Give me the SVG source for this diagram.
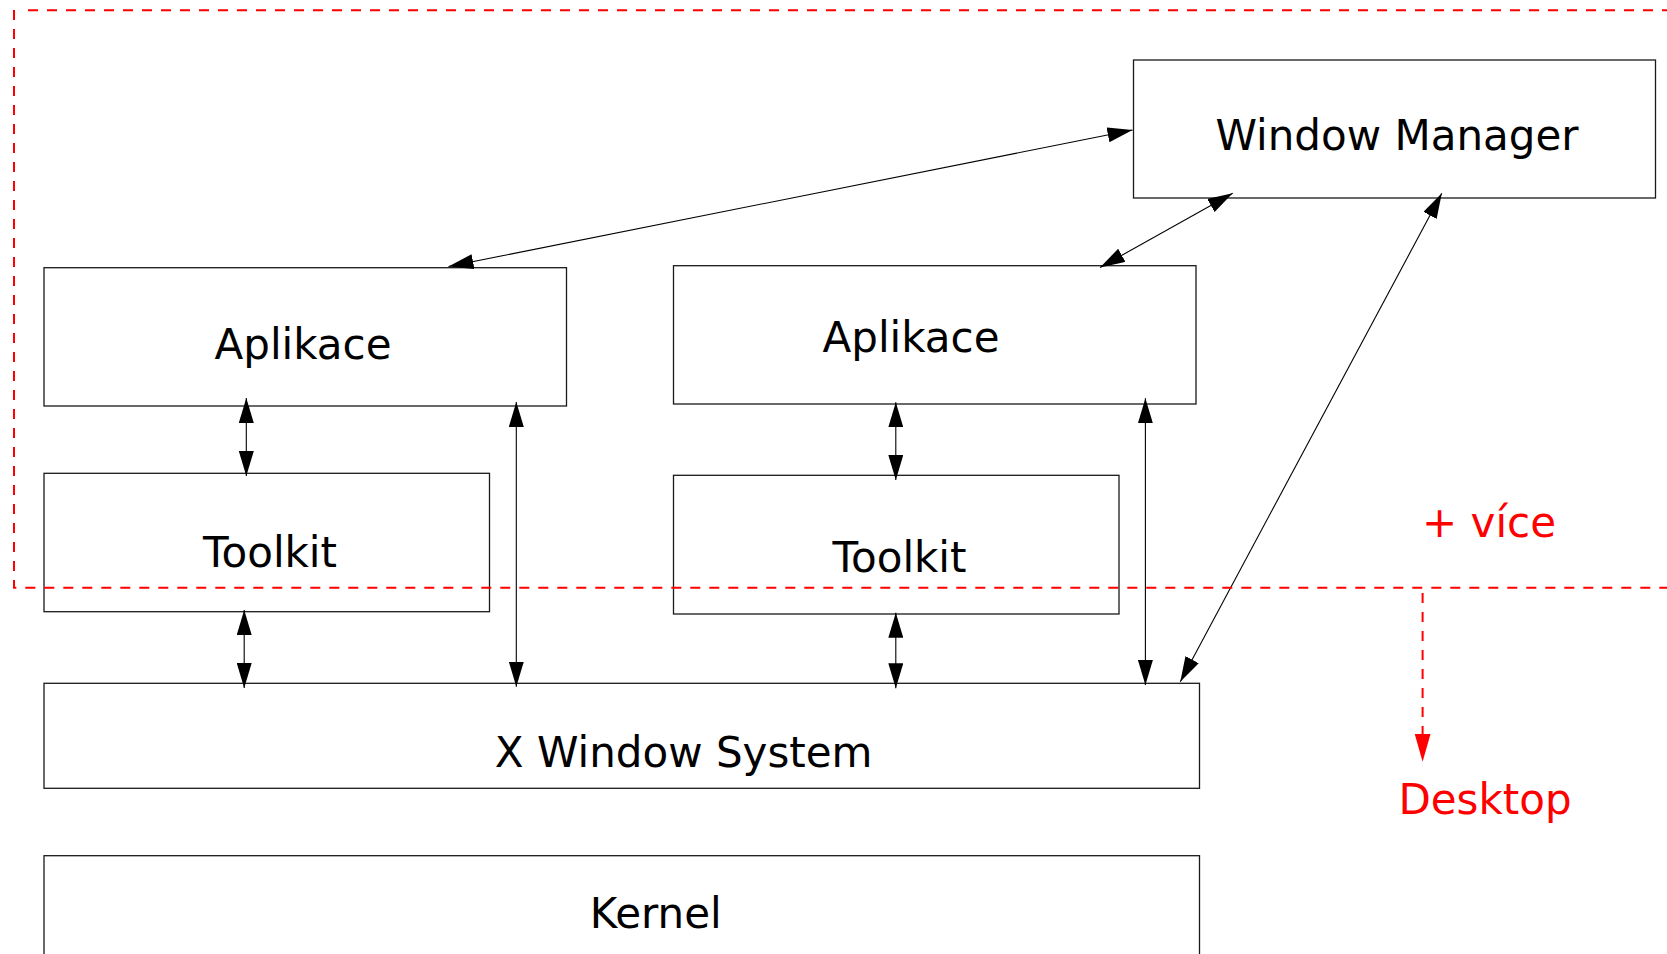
<svg xmlns="http://www.w3.org/2000/svg" width="1667" height="954" viewBox="0 0 1667 954">
<style>
.box{fill:none;stroke:#1a1a1a;stroke-width:1.3}
.lbl{font-family:"DejaVu Sans","Liberation Sans",sans-serif;font-size:42px;fill:#000;text-anchor:middle}
.red{fill:#ff0000}
.con{stroke:#000;stroke-width:1.1;fill:none}
.dash{stroke:#ff0000;stroke-width:2;fill:none;stroke-dasharray:10 9}
</style>
<defs>
<marker id="ah" markerUnits="userSpaceOnUse" markerWidth="26" markerHeight="15" refX="25" refY="7.5" orient="auto-start-reverse">
<path d="M0,0 L25,7.5 L0,15 z" fill="#000"/>
</marker>
<marker id="ahr" markerUnits="userSpaceOnUse" markerWidth="29" markerHeight="16" refX="28" refY="8" orient="auto">
<path d="M0,0 L28,8 L0,16 z" fill="#ff0000"/>
</marker>
</defs>
<rect width="1667" height="954" fill="#fff"/>
<g id="window-manager">
<rect class="box" x="1133.5" y="60" width="522" height="138"/>
<text class="lbl" x="1397" y="150">Window Manager</text>
</g>
<g id="aplikace1">
<rect class="box" x="44" y="267.7" width="522.5" height="138.3"/>
<text class="lbl" x="303" y="359">Aplikace</text>
</g>
<g id="aplikace2">
<rect class="box" x="673.5" y="265.7" width="522.5" height="138.3"/>
<text class="lbl" x="911" y="351.7">Aplikace</text>
</g>
<g id="toolkit1">
<rect class="box" x="44" y="473.3" width="445.5" height="138.4"/>
<text class="lbl" x="270" y="566.7">Toolkit</text>
</g>
<g id="toolkit2">
<rect class="box" x="673.5" y="475.3" width="445.5" height="138.7"/>
<text class="lbl" x="899.5" y="571.7">Toolkit</text>
</g>
<g id="x-window-system">
<rect class="box" x="44" y="683.3" width="1155.5" height="105"/>
<text class="lbl" x="683.7" y="766.7">X Window System</text>
</g>
<g id="kernel">
<rect class="box" x="44" y="855.7" width="1155.5" height="120"/>
<text class="lbl" x="655.7" y="928.3">Kernel</text>
</g>
<g id="labels">
<text class="lbl red" x="1489" y="537.3">+ více</text>
<text class="lbl red" x="1485" y="814">Desktop</text>
</g>
<g id="connectors">
<line class="con" x1="1132.5" y1="130" x2="448.5" y2="266.5" marker-start="url(#ah)" marker-end="url(#ah)"/>
<line class="con" x1="1232.7" y1="193.3" x2="1100" y2="267.5" marker-start="url(#ah)" marker-end="url(#ah)"/>
<line class="con" x1="1441.8" y1="193.3" x2="1180.3" y2="681.7" marker-start="url(#ah)" marker-end="url(#ah)"/>
<line class="con" x1="246.3" y1="398" x2="246.3" y2="476" marker-start="url(#ah)" marker-end="url(#ah)"/>
<line class="con" x1="244.2" y1="610" x2="244.2" y2="688" marker-start="url(#ah)" marker-end="url(#ah)"/>
<line class="con" x1="516.3" y1="402" x2="516.3" y2="686.7" marker-start="url(#ah)" marker-end="url(#ah)"/>
<line class="con" x1="895.8" y1="402.3" x2="895.8" y2="480" marker-start="url(#ah)" marker-end="url(#ah)"/>
<line class="con" x1="895.8" y1="612.7" x2="895.8" y2="688.3" marker-start="url(#ah)" marker-end="url(#ah)"/>
<line class="con" x1="1145.4" y1="398.3" x2="1145.4" y2="685" marker-start="url(#ah)" marker-end="url(#ah)"/>
<line class="dash" x1="1422.6" y1="593" x2="1422.6" y2="761.7" marker-end="url(#ahr)"/>
</g>
<g id="desktop-frame">
<path class="dash" d="M14,10 L14,587.7 L1667,587.7"/>
<path class="dash" d="M28,10.3 L1667,10.3"/>
</g>
</svg>
